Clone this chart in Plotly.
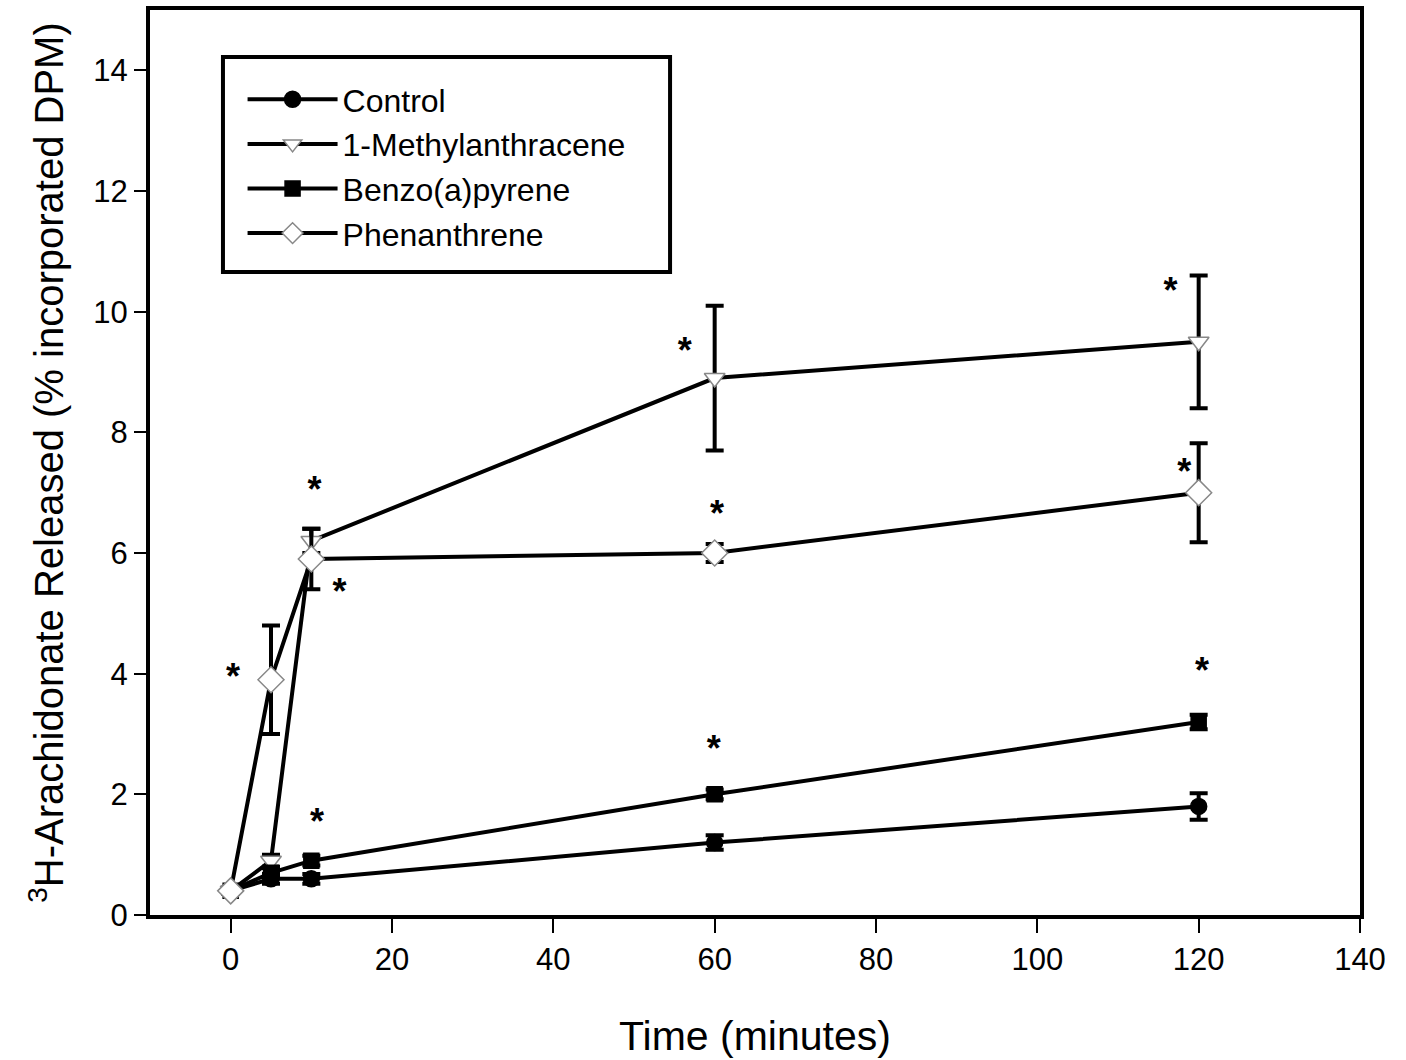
import plotly.graph_objects as go

time = [0, 5, 10, 60, 120]

control = [0.4, 0.6, 0.6, 1.2, 1.8]
control_err = [0.05, 0.08, 0.08, 0.12, 0.22]

methyl = [0.4, 0.9, 6.2, 8.9, 9.5]
methyl_err = [0.05, 0.1, 0.2, 1.2, 1.1]

benzo = [0.4, 0.7, 0.9, 2.0, 3.2]
benzo_err = [0.05, 0.08, 0.08, 0.08, 0.12]

phen = [0.4, 3.9, 5.9, 6.0, 7.0]
phen_err = [0.05, 0.9, 0.5, 0.15, 0.82]

star_x = [0.3, 10.4, 13.5, 10.7, 56.3, 60.3, 59.9, 116.5, 118.2, 120.4]
star_y = [3.9, 7.0, 5.3, 1.5, 9.3, 6.6, 2.7, 10.3, 7.3, 4.0]

x_ticks = [0, 20, 40, 60, 80, 100, 120, 140]
y_ticks = [0, 2, 4, 6, 8, 10, 12, 14]

series = [
    ("Control", control, control_err, "circle", "black", "black"),
    ("1-Methylanthracene", methyl, methyl_err, "triangle-down", "white", "#888"),
    ("Benzo(a)pyrene", benzo, benzo_err, "square", "black", "black"),
    ("Phenanthrene", phen, phen_err, "diamond", "white", "#888"),
]
sizes = {"circle": 16, "triangle-down": 18, "square": 15, "diamond": 20}

fig = go.Figure()
for i, (name, ys, err, sym, fill, edge) in enumerate(series):
    fig.add_trace(go.Scatter(
        x=time, y=ys, name=name, mode="lines+markers",
        legendgroup=f"g{i}",
        line=dict(color="black", width=4),
        marker=dict(symbol=sym, size=sizes[sym], color=fill,
                    line=dict(color=edge, width=1.5)),
        error_y=dict(type="data", array=err, visible=True,
                     color="black", thickness=4, width=9),
    ))

fig.add_trace(go.Scatter(
    x=star_x, y=star_y, mode="text", text=["*"] * len(star_x),
    textfont=dict(size=36, color="black", family="Liberation Sans, Arial", weight="bold"),
    showlegend=False, hoverinfo="skip",
))

axis_common = dict(
    showline=True, linewidth=4, linecolor="black", mirror=True,
    ticks="outside", tickwidth=2, tickcolor="black",
    showgrid=False, zeroline=False, automargin=False,
    tickfont=dict(size=31, color="black", family="Liberation Sans, Arial"),
)

# legend frame (pixel box 223..670 x 57..272 of the plot area)
fig.add_shape(type="rect", xref="paper", yref="paper",
              x0=0.0603, x1=0.4298, y0=0.7105, y1=0.948,
              line=dict(color="black", width=4), fillcolor="white", layer="below")

fig.update_layout(
    width=1406, height=1060,
    margin=dict(l=150, r=46, t=10, b=145),
    paper_bgcolor="white", plot_bgcolor="white",
    xaxis=dict(range=[-10, 140], tickvals=x_ticks, ticklen=14,
               title=dict(text="Time (minutes)", standoff=46,
                          font=dict(size=41, color="black",
                                    family="Liberation Sans Narrow, Arial Narrow, Liberation Sans")),
               **axis_common),
    yaxis=dict(range=[0, 15], tickvals=y_ticks, ticklen=12,
               title=dict(text="<sup>3</sup>H-Arachidonate Released (% incorporated DPM)",
                          standoff=18,
                          font=dict(size=40, color="black",
                                    family="Liberation Sans Narrow, Arial Narrow, Liberation Sans")),
               **axis_common),
    legend=dict(x=0.0765, y=0.9315, xanchor="left", yanchor="top",
                borderwidth=0, bgcolor="rgba(0,0,0,0)",
                font=dict(size=32, color="black", family="Liberation Sans, Arial"),
                tracegroupgap=0, itemwidth=90),
    showlegend=True,
)

fig.write_html("out.html")
